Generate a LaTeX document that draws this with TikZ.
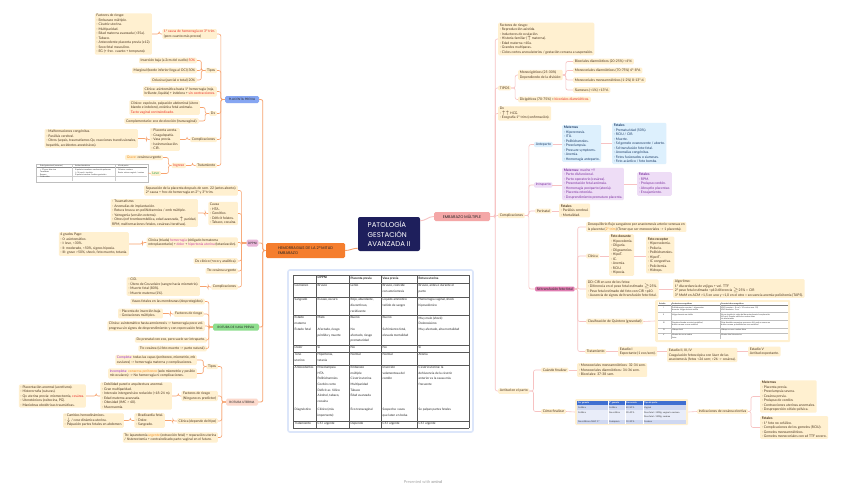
\documentclass[tikz,border=0pt]{standalone}
\usepackage{fontspec}
\setmainfont{Lato}
\newfontfamily\titlefont{Poppins}
\usepackage{amsmath}
\usetikzlibrary{positioning,calc}

\definecolor{leafbg}{HTML}{FFF0D0}
\definecolor{leaftext}{HTML}{4A3520}
\definecolor{orangeline}{HTML}{F7A26E}
\definecolor{pinkline}{HTML}{F7C2C2}
\definecolor{navy}{HTML}{1E1F5C}
\definecolor{hemfill}{HTML}{F57E2E}
\definecolor{emfill}{HTML}{F4A7A7}
\definecolor{ppfill}{HTML}{86A6F2}
\definecolor{dpfill}{HTML}{E8B4D8}
\definecolor{vpfill}{HTML}{8EDE8E}
\definecolor{rufill}{HTML}{FCD9CC}
\definecolor{txtred}{HTML}{E8302A}
\definecolor{txtorange}{HTML}{F08C1E}
\definecolor{txtpurple}{HTML}{9B2FC8}
\definecolor{txtpink}{HTML}{C63FA0}
\definecolor{txtgreen}{HTML}{2DA44E}
\definecolor{antebg}{HTML}{DDF0FD}
\definecolor{antetext}{HTML}{1B3A66}
\definecolor{intrabg}{HTML}{EEDDF6}
\definecolor{intratext}{HTML}{7A2E9E}
\definecolor{tfffill}{HTML}{E07DB2}
\definecolor{tabframe}{HTML}{DCE6FA}
\definecolor{thead}{HTML}{3F6FD1}
\definecolor{trowa}{HTML}{CFD8F1}
\definecolor{trowb}{HTML}{E9EDF9}

\begin{document}
\begin{tikzpicture}[x=1pt, y=-1pt,
    leaf/.style={rectangle, rounded corners=1.2pt, fill=leafbg, text=leaftext, align=left, inner xsep=1.6pt, inner ysep=1.2pt, font=\fontsize{3.4}{4.5}\selectfont},
    leafl/.style={leaf, anchor=east},
    leafr/.style={leaf, anchor=west},
    topic/.style={rectangle, rounded corners=1.5pt, text=black!85, align=left, inner sep=1.5pt, font=\titlefont\fontsize{3.1}{4}\selectfont},
    rootbox/.style={rectangle, rounded corners=2pt, fill=navy, text=white, align=left, minimum width=62, minimum height=34, font=\titlefont\fontsize{7}{9.5}\selectfont},
    antebox/.style={leafr, fill=antebg, text=antetext},
    intrabox/.style={leafr, fill=intrabg, text=intratext},
    lline/.style={draw=orangeline, line width=0.6pt, rounded corners=2pt},
    rline/.style={draw=pinkline, line width=0.6pt, rounded corners=2pt},
    tcell/.style={anchor=north west, inner sep=0, align=left, text=black!85, font=\fontsize{3.1}{5.6}\selectfont},
    tmini/.style={anchor=north west, inner sep=0, align=left, text=black!80, font=\fontsize{1.9}{2.4}\selectfont},
    grid/.style={draw=black!65, line width=0.3pt}
]
\useasboundingbox[fill=white] (0,0) rectangle (848,490);

% central topic and main branches
\node[rootbox] (root) at (389,234) {PATOLOGÍA\\GESTACIÓN\\AVANZADA II};
\node[topic, fill=hemfill, minimum width=79, minimum height=15, font=\titlefont\fontsize{3.8}{5}\selectfont] (hem) at (305.5,250.5) {HEMORRAGIAS DE LA 2ª MITAD\\EMBARAZO};
\node[topic, fill=emfill, minimum width=56, minimum height=9, align=center, font=\titlefont\fontsize{3.9}{5}\selectfont] (em) at (462,216.5) {EMBARAZO MÚLTIPLE};

\draw[lline, line width=0.9pt] ($(root.south west)+(0,-3)$) to[out=180,in=0] (hem.east);
\draw[rline, line width=0.9pt] ($(root.north east)+(0,4)$) to[out=0,in=180] (em.west);

% left: four hemorrhages
\node[topic, fill=ppfill, minimum width=34, minimum height=7] (pp) at (242,99.5) {PLACENTA PREVIA};
\node[topic, fill=dpfill, minimum width=11, minimum height=7] (dp) at (252.5,243) {DPPNI};
\node[topic, fill=vpfill, minimum width=46, minimum height=7] (vp) at (236,327) {ROTURA DE VASA PREVIA};
\node[topic, fill=rufill, minimum width=32, minimum height=7] (ru) at (242,402) {ROTURA UTERINA};

\draw[lline, line width=0.8pt] (hem.west) -- ++(-3,0) |- (pp.east);
\draw[lline, line width=0.8pt] (hem.west) -- ++(-3,0) |- (dp.east);
\draw[lline, line width=0.8pt] (hem.west) -- ++(-3,0) |- (vp.east);
\draw[lline, line width=0.8pt] (hem.west) -- ++(-3,0) |- (ru.east);

% placenta previa
\node[leafl] (pp1) at (217,34) {\textcolor{txtred}{1ª causa de hemorragia en 3º trim.}\\(pero cuanto más precoz)};
\node[leafl] (pp1a) at (152,34) {Factores de riesgo:\\- Embarazo múltiple.\\- Cicatriz uterina.\\- Multiparidad.\\- Edad materna avanzada (>35a).\\- Tabaco.\\- Antecedente placenta previa (x12).\\- Sexo fetal masculino.\\- EG (+ frec. cuanto + temprano).};
\node[leafl] (pp2) at (217,70.5) {Tipos};
\node[leafl] (pp2a) at (197,60.5) {Inserción baja (a 2cm del cuello) \textcolor{txtred}{50\%}};
\node[leafl] (pp2b) at (197,70.5) {Marginal (borde inferior llega al OCI) 30\%};
\node[leafl] (pp2c) at (197,80) {Oclusiva (parcial o total) 20\%};
\node[leafl] (pp3) at (217,91.5) {Clínica: asintomática hasta 1ª hemorragia (roja,\\brillante, líquida) + indolora + \textcolor{txtred}{sin contracciones.}};
\node[leafl] (pp4) at (217,113.5) {Dx};
\node[leafl] (pp4a) at (200,107.5) {Clínico: espéculo, palpación abdominal (útero\\blando e indoloro), estática fetal anómala.\\\textcolor{txtred}{Tacto vaginal contraindicado.}};
\node[leafl] (pp4b) at (199,121) {Complementario: eco de elección (transvaginal).};
\node[leafl] (pp5) at (217,139.5) {Complicaciones};
\node[leafl] (pp5a) at (180,139.5) {- Placenta acreta.\\- Coagulopatía.\\- Vasa previa.\\- Isoinmunización.\\- CIR.};
\node[leafl] (pp5b) at (138,138.5) {- Malformaciones congénitas.\\- Parálisis cerebral.\\- Otros (sepsis, traumatismos Qx, reacciones transfusionales,\\hepatitis, accidentes anestésicos).};
\node[leafl] (pp6) at (217,165.5) {Tratamiento};
\node[leafl] (pp6a) at (186,165.5) {\textcolor{txtred}{Ingreso}};
\node[leafl] (pp6b) at (163,157.5) {\textcolor{txtorange}{Grave:} cesárea urgente};
\node[leafl] (pp6c) at (161,173.5) {\textcolor{txtgreen}{Leve}};
\node[anchor=east, draw=black!25, fill=white, minimum width=112, minimum height=18, inner sep=0] (lvtab) at (148,173) {};

\draw[lline] (pp.west) -- ++(-4,0) |- (pp1.east);
\draw[lline] (pp.west) -- ++(-4,0) |- (pp2.east);
\draw[lline] (pp.west) -- ++(-4,0) |- (pp3.east);
\draw[lline] (pp.west) -- ++(-4,0) |- (pp4.east);
\draw[lline] (pp.west) -- ++(-4,0) |- (pp5.east);
\draw[lline] (pp.west) -- ++(-4,0) |- (pp6.east);
\draw[lline] (pp1.west) -- ++(-3,0) |- (pp1a.east);
\draw[lline] (pp2.west) -- ++(-4,0) |- (pp2a.east);
\draw[lline] (pp2.west) -- ++(-4,0) |- (pp2b.east);
\draw[lline] (pp2.west) -- ++(-4,0) |- (pp2c.east);
\draw[lline] (pp4.west) -- ++(-4,0) |- (pp4a.east);
\draw[lline] (pp4.west) -- ++(-4,0) |- (pp4b.east);
\draw[lline] (pp5.west) -- ++(-3,0) |- (pp5a.east);
\draw[lline] (pp5a.west) -- ++(-3,0) |- (pp5b.east);
\draw[lline] (pp6.west) -- ++(-3,0) |- (pp6a.east);
\draw[lline] (pp6a.west) -- ++(-3,0) |- (pp6b.east);
\draw[lline] (pp6a.west) -- ++(-3,0) |- (pp6c.east);
\draw[lline] (pp6c.west) -- (lvtab.east);

% small table (leve)
\draw[black!45, line width=0.4pt] (37,167.5) -- (147,167.5);
\draw[black!20, line width=0.2pt] (72,165) -- (72,181) (115,165) -- (115,181) (37,176) -- (147,176);
\node[tmini] (lv11) at (40,165) {Edad gestacional (semanas)};
\node[tmini] (lv12) at (75,165) {Actitud obstétrica};
\node[tmini] (lv13) at (118,165) {Vía de parto};
\node[tmini] (lv21) at (40,169) {< 37 sem, feto vivo\\Tocolíticos\\Reposo\\Corticoides};
\node[tmini] (lv22) at (75,169) {Si pulmón inmaduro: maduración pulmonar\\(< 34 sem) + tocolisis\\Si pulmón maduro: finalizar gestación};
\node[tmini] (lv23) at (118,169) {Oclusiva: cesárea\\Resto: valorar vaginal / cesárea};

% DPPNI
\node[leafl] (dp1) at (238,190.5) {Separación de la placenta después de sem. 22 (antes aborto).\\2ª causa + frec de hemorragia en 2º y 3º trim.};
\node[leafl] (dp2) at (238,213.5) {Causa\\- HTA.\\- Genético.\\- Déficit folatos.\\- Tabaco, cocaína.};
\node[leafl] (dp2a) at (198,213) {- Traumatismo.\\- Anomalías de implantación.\\- Rotura brusca en polihidramnios / emb múltiple.\\- Yatrogenia (versión externa).\\- Otros (enf tromboembólica, edad avanzada, $\uparrow$ paridad,\\RPM, malformaciones fetales, cesáreas iterativas).};
\node[leafl] (dp3) at (238,242.5) {Clínica (triada) \textcolor{txtpink}{hemorragia} (obligado hematoma\\retroplacentario) + \textcolor{txtpink}{dolor} + \textcolor{txtpink}{hipertonía uterina} (tetanización).};
\node[leafl] (dp3a) at (129,244) {4 grados Page:\\- 0: asintomático.\\- I: leve, <30\%.\\- II: moderado, <50\%, signos hipoxia.\\- III: grave >50\%, shock, feto muerto, tetania.};
\node[leafl] (dp4) at (238,261) {Dx clínico (+eco y analítica).};
\node[leafl] (dp5) at (238,271) {Ttc cesárea urgente};
\node[leafl] (dp6) at (238,287) {Complicaciones};
\node[leafl] (dp6a) at (200,286.5) {- CID.\\- Útero de Couvelaire (sangre hacia miometrio).\\- Muerte fetal (80\%).\\- Muerte materna (1\%).};

\draw[lline] (dp.west) -- ++(-5,0) |- (dp1.east);
\draw[lline] (dp.west) -- ++(-5,0) |- (dp2.east);
\draw[lline] (dp.west) -- ++(-5,0) |- (dp3.east);
\draw[lline] (dp.west) -- ++(-5,0) |- (dp4.east);
\draw[lline] (dp.west) -- ++(-5,0) |- (dp5.east);
\draw[lline] (dp.west) -- ++(-5,0) |- (dp6.east);
\draw[lline] (dp2.west) -- ++(-3,0) |- (dp2a.east);
\draw[lline] (dp3.west) -- ++(-4,0) |- (dp3a.east);
\draw[lline] (dp6.west) -- ++(-3,0) |- (dp6a.east);

% rotura de vasa previa
\node[leafl] (vp1) at (205,301.5) {Vasos fetales en las membranas (desprotegidos).};
\node[leafl] (vp2) at (204,314) {Factores de riesgo};
\node[leafl] (vp2a) at (163,313.5) {- Placenta de inserción baja.\\- Gestaciones múltiples.};
\node[leafl] (vp3) at (205,326) {Clínica: asintomático hasta amniorrexis -> hemorragia poco vol.\\progresa sin signos de desprendimiento y con repercusión fetal.};
\node[leafl] (vp4) at (207,340) {Dx prenatal con eco, pero suele ser intraparto.};
\node[leafl] (vp5) at (207,348.5) {Ttc cesárea (si feto muerto -> parto natural).};

\draw[lline] (vp.west) -- ++(-4,0) |- (vp1.east);
\draw[lline] (vp.west) -- ++(-4,0) |- (vp2.east);
\draw[lline] (vp.west) -- ++(-4,0) |- (vp3.east);
\draw[lline] (vp.west) -- ++(-4,0) |- (vp4.east);
\draw[lline] (vp.west) -- ++(-4,0) |- (vp5.east);
\draw[lline] (vp2.west) -- ++(-3,0) |- (vp2a.east);

% rotura uterina
\node[leafl] (ru1) at (218,366.5) {Tipos};
\node[leafl] (ru1a) at (197,360) {\textcolor{txtpurple}{Completa:} todas las capas (peritoneo, miometrio, mb\\ovulares) -> hemorragia materna y complicaciones.};
\node[leafl] (ru1b) at (197,373.5) {\textcolor{txtpurple}{Incompleta:} \textcolor{txtorange}{conserva peritoneo} (solo miometrio y posible\\mb ovulares) -> No hemorragia ni complicaciones.};
\node[leafl] (ru2) at (218,396) {Factores de riesgo\\(Ninguno es predictor)};
\node[leafl] (ru2a) at (172,396) {- Debilidad pared o arquitectura anormal.\\- Gran multiparidad.\\- Intervalo intergenésico reducido (<18-24 m).\\- Edad materna avanzada.\\- Obesidad (IMC > 40).\\- Macrosomía.};
\node[leafl] (ru2b) at (86,396) {- Placentación anormal (acretismo).\\- Histerorrafia (suturas).\\- Qx uterina previa: miomectomía, \textcolor{txtred}{cesárea}.\\- Uterotónicos (oxitocina, PG).\\- Maniobras obstétricas traumáticas.};
\node[leafl] (ru3) at (218,421) {Clínica (depende del tipo)};
\node[leafl] (ru3a) at (165,420.5) {- Bradicardia fetal.\\- Dolor.\\- Sangrado.};
\node[leafl] (ru3b) at (124,420.5) {- Cambios hemodinámicos.\\- $\downarrow$ / cese dinámica uterina.\\- Palpación partes fetales en abdomen.};
\node[leafl] (ru4) at (218,437.5) {Ttc laparotomía \textcolor{txtorange}{urgente} (extracción fetal) + reparación uterina\\/ histerectomía + contraindicado parto vaginal en el futuro.};

\draw[lline] (ru.west) -- ++(-4,0) |- (ru1.east);
\draw[lline] (ru.west) -- ++(-4,0) |- (ru2.east);
\draw[lline] (ru.west) -- ++(-4,0) |- (ru3.east);
\draw[lline] (ru.west) -- ++(-4,0) |- (ru4.east);
\draw[lline] (ru1.west) -- ++(-3,0) |- (ru1a.east);
\draw[lline] (ru1.west) -- ++(-3,0) |- (ru1b.east);
\draw[lline] (ru2.west) -- ++(-3,0) |- (ru2a.east);
\draw[lline] (ru2a.west) -- ++(-4,0) |- (ru2b.east);
\draw[lline] (ru3.west) -- ++(-4,0) |- (ru3a.east);
\draw[lline] (ru3a.west) -- ++(-4,0) |- (ru3b.east);

% comparison table
\draw[draw=tabframe, line width=1.6pt, fill=white, rounded corners=2pt] (288,270) rectangle (473,432);
\draw[grid] (293,275) -- (293,428) (316,275) -- (316,428) (349,275) -- (349,428) (381,275) -- (381,428) (417,275) -- (417,428) (469,275) -- (469,428);
\draw[grid] (293,275) -- (469,275) (293,283) -- (469,283) (293,297) -- (469,297) (293,315) -- (469,315) (293,345) -- (469,345);
\draw[grid] (293,352) -- (469,352) (293,365) -- (469,365) (293,421) -- (469,421) (293,428) -- (469,428);
\node[tcell, font=\bfseries\fontsize{3.1}{5.6}\selectfont] (c02) at (317.5,276.5) {DPPNI};
\node[tcell, font=\bfseries\fontsize{3.1}{5.6}\selectfont] (c03) at (350.5,276.5) {Placenta previa};
\node[tcell, font=\bfseries\fontsize{3.1}{5.6}\selectfont] (c04) at (382.5,276.5) {Vasa previa};
\node[tcell, font=\bfseries\fontsize{3.1}{5.6}\selectfont] (c05) at (418.5,276.5) {Rotura uterina};
\node[tcell] (c11) at (294.5,284.5) {Comienzo};
\node[tcell] (c12) at (317.5,284.5) {Brusco};
\node[tcell] (c13) at (350.5,284.5) {Lento};
\node[tcell] (c14) at (382.5,284.5) {Brusco, coincide\\con amniorrexis};
\node[tcell] (c15) at (418.5,284.5) {Brusco, antes o durante el\\parto};
\node[tcell] (c21) at (294.5,298.5) {Sangrado};
\node[tcell] (c22) at (317.5,298.5) {Escaso, oscuro};
\node[tcell] (c23) at (350.5,298.5) {Rojo, abundante,\\discontinuo,\\recidivante};
\node[tcell] (c24) at (382.5,298.5) {Líquido amniótico\\teñido de sangre};
\node[tcell] (c25) at (418.5,298.5) {Hemorragia vaginal, shock\\hipovolémico};
\node[tcell] (c31) at (294.5,316.5) {Estado\\materno};
\node[tcell] (c32) at (317.5,316.5) {Malo};
\node[tcell] (c33) at (350.5,316.5) {Bueno};
\node[tcell] (c34) at (382.5,316.5) {Bueno};
\node[tcell] (c35) at (418.5,316.5) {Muy malo (shock)\\Dolorosísimo};
\node[tcell] (c41) at (294.5,328) {Estado fetal};
\node[tcell] (c42) at (317.5,328) {Afectado, riesgo\\pérdida y muerte};
\node[tcell] (c43) at (350.5,328) {No\\afectado, riesgo\\prematuridad};
\node[tcell] (c44) at (382.5,328) {Sufrimiento fetal,\\elevada mortalidad};
\node[tcell] (c45) at (418.5,328) {Muy afectado, alta mortalidad};
\node[tcell] (c51) at (294.5,346.3) {Dolor};
\node[tcell] (c52) at (317.5,346.3) {Sí};
\node[tcell] (c53) at (350.5,346.3) {No};
\node[tcell] (c54) at (382.5,346.3) {No};
\node[tcell] (c55) at (418.5,346.3) {Sí};
\node[tcell] (c61) at (294.5,353.3) {Tono\\uterino};
\node[tcell] (c62) at (317.5,353.3) {Hipertonía,\\tetania};
\node[tcell] (c63) at (350.5,353.3) {Normal};
\node[tcell] (c64) at (382.5,353.3) {Normal};
\node[tcell] (c65) at (418.5,353.3) {Atonía};
\node[tcell] (c71) at (294.5,366.3) {Antecedentes};
\node[tcell] (c72) at (317.5,366.3) {Preeclampsia\\HTA\\Polihidramnios\\Cordón corto\\Déficit ac. fólico\\Alcohol, tabaco,\\cocaína};
\node[tcell] (c73) at (350.5,366.3) {Embarazo\\múltiple\\Cicatriz uterina\\Multiparidad\\Tabaco\\Edad avanzada};
\node[tcell] (c74) at (382.5,366.3) {Inserción\\velamentosa del\\cordón};
\node[tcell] (c75) at (418.5,366.3) {Cicatriz uterina: la\\dehiscencia de la cicatriz\\anterior es la causa más\\frecuente};
\node[tcell] (c81) at (294.5,408) {Diagnóstico};
\node[tcell] (c82) at (317.5,408) {Clínico (más\\importante)};
\node[tcell] (c83) at (350.5,408) {Eco transvaginal};
\node[tcell] (c84) at (382.5,408) {Sospecha: vasos\\que laten en bolsa};
\node[tcell] (c85) at (418.5,408) {Se palpan partes fetales};
\node[tcell] (c91) at (294.5,422.3) {Tratamiento};
\node[tcell] (c92) at (317.5,422.3) {CST urgente};
\node[tcell] (c93) at (350.5,422.3) {Depende};
\node[tcell] (c94) at (382.5,422.3) {CST urgente};
\node[tcell] (c95) at (418.5,422.3) {CST urgente};

% right: embarazo multiple
\node[leafr] (em1) at (498,39) {Factores de riesgo:\\- Reproducción asistida.\\- Inductores de ovulación.\\- Historia familiar ($\uparrow$ materna).\\- Edad materna >40a.\\- Grandes multíparas.\\- Ciclos cortos anovulatorios / gestación cercana a suspensión.};
\node[leafr] (em2) at (498,88) {TIPOS};
\node[leafr] (em2a) at (518,75) {Monocigóticos (25-30\%)\\Dependiendo de la división:};
\node[leafr] (em2a1) at (573,61.5) {Bicoriales diamnióticos (20-25\%) <4ºd.};
\node[leafr] (em2a2) at (573,70.5) {Monocoriales diamnióticos (70-75\%) 4º-8ºd.};
\node[leafr] (em2a3) at (573,80) {Monocoriales monoamnióticos (1-2\%) 8-13º d.};
\node[leafr] (em2a4) at (573,90) {Siameses (<1\%) >13ºd.};
\node[leafr] (em2b) at (518,99.5) {Dicigóticos (70-75\%) = \textcolor{txtred}{bicoriales diamnióticos.}};
\node[leafr] (em3) at (498,113.5) {Dx\\- $\uparrow\uparrow$ HCG.\\- Ecografía 1º trim (confirmación).};
\node[leafr] (em4) at (498,215.5) {Complicaciones};
\node[antebox] (em4a) at (534,144.5) {Anteparto};
\node[antebox] (em4a1) at (562,143.5) {\textbf{Maternas}\\- Hiperemesis.\\- ITU.\\- Polihidramnios.\\- Preeclampsia.\\- Pressure symptoms.\\- Anemia.\\- Hemorragia anteparto.};
\node[antebox] (em4a2) at (612,143.5) {\textbf{Fetales}\\- Prematuridad (50\%).\\- RCIU / CIR.\\- Muerte.\\- Sd gemelo evanescente / aborto.\\- Sd transfusión feto-fetal.\\- Anomalías congénitas.\\- Fetos fusionados o siameses.\\- Feto acárdico / feto bomba.};
\node[intrabox] (em4b) at (534,185) {Intraparto};
\node[intrabox] (em4b1) at (562,184) {\textbf{Maternas:} mucho +!!\\- Parto disfuncional.\\- Parto operatorio (cesárea).\\- Presentación fetal anómala.\\- Hemorragia postparto (atonía).\\- Placenta retenida.\\- Desprendimiento prematuro placenta.};
\node[intrabox] (em4b2) at (637,184) {\textbf{Fetales}\\- RPM.\\- Prolapso cordón.\\- Abruptio placentae.\\- Encajamiento.};
\node[leafr] (em4c) at (535,211) {Perinatal};
\node[leafr] (em4c1) at (559,210.5) {\textbf{Fetales}\\- Parálisis cerebral.\\- Mortalidad.};
\node[leafr, fill=tfffill, text=black!85] (em4d) at (535,289) {Sd transfusión feto-fetal};
\node[leafr] (em5) at (498,391) {Actitud en el parto};

\draw[rline] (em.east) -- ++(5,0) |- (em1.west);
\draw[rline] (em.east) -- ++(5,0) |- (em2.west);
\draw[rline] (em.east) -- ++(5,0) |- (em3.west);
\draw[rline] (em.east) -- ++(5,0) |- (em4.west);
\draw[rline] (em.east) -- ++(5,0) |- (em5.west);
\draw[rline] (em2.east) -- ++(4,0) |- (em2a.west);
\draw[rline] (em2.east) -- ++(4,0) |- (em2b.west);
\draw[rline] (em2a.east) -- ++(3,0) |- (em2a1.west);
\draw[rline] (em2a.east) -- ++(3,0) |- (em2a2.west);
\draw[rline] (em2a.east) -- ++(3,0) |- (em2a3.west);
\draw[rline] (em2a.east) -- ++(3,0) |- (em2a4.west);
\draw[rline] (em4.east) -- ++(4,0) |- (em4a.west);
\draw[rline] (em4.east) -- ++(4,0) |- (em4b.west);
\draw[rline] (em4.east) -- ++(4,0) |- (em4c.west);
\draw[rline] (em4.east) -- ++(4,0) |- (em4d.west);
\draw[rline] (em4a.east) -- (em4a1.west |- em4a.east);
\draw[rline] (em4a1.east) -- (em4a2.west);
\draw[rline] (em4b.east) -- (em4b1.west |- em4b.east);
\draw[rline] (em4b1.east) -- (em4b2.west);
\draw[rline] (em4c.east) -- (em4c1.west |- em4c.east);

% sd transfusion feto-fetal
\node[leafr] (tf1) at (586,227) {Desequilibrio flujo sanguíneo por anastomosis arterio-venosas en\\la placenta (\textcolor{txtorange}{2º trim}) (Tener que ser monocoriales -> 1 placenta).};
\node[leafr] (tf2) at (586,256) {Clínica};
\node[leafr] (tf2a) at (609,255) {\textbf{Feto donante}\\- Hipovolemia.\\- Oliguria.\\- Oligoamnios.\\- HipoT.\\- IC.\\- Anemia.\\- RCIU.\\- Hipoxia.};
\node[leafr] (tf2b) at (646,255) {\textbf{Feto receptor}\\- Hipervolemia.\\- Poliuria.\\- Polihidramnios.\\- HiperT.\\- IC congestiva.\\- Policitemia.\\- Hidrops.};
\node[leafr] (tf3) at (586,289) {DD: CIR en uno de los fetos:\\- Diferencia en el peso fetal estimado $\geq$25\%.\\- Peso fetal estimado del feto con CIR <p10.\\- Ausencia de signos del transfusión feto-fetal.};
\node[leafr] (tf3a) at (673,288.5) {Algoritmo:\\1º discordancia de vejigas + vol. TTF\\2º peso fetal estimado <p10 diferencia $\geq$25\% = CIR\\3º MoM en ACM >1,5 en uno y <1,0 en el otro = secuencia anemia-policitemia (TAPS).};
\node[leafr] (tf4) at (586,321.5) {Clasificación de Quintero (gravedad)};
\node[leafr, minimum width=135, minimum height=42, inner sep=0] (tf4a) at (655,321) {};
\node[leafr] (tf5) at (585,351.5) {Tratamiento};
\node[leafr] (tf5a) at (618,351.5) {Estadio I\\Expectante (1 eco/sem).};
\node[leafr] (tf5b) at (667,355) {Estadio II, III, IV\\Coagulación fetoscópica con láser de las\\anastomosis (fetos <26 sem; >26 -> cesárea).};
\node[leafr] (tf5c) at (748,351.5) {Estadio V\\Actitud expectante.};

\draw[rline] (em4d.east) -- ++(3,0) |- (tf1.west);
\draw[rline] (em4d.east) -- ++(3,0) |- (tf2.west);
\draw[rline] (em4d.east) -- ++(3,0) |- (tf3.west);
\draw[rline] (em4d.east) -- ++(3,0) |- (tf4.west);
\draw[rline] (em4d.east) -- ++(3,0) |- (tf5.west);
\draw[rline] (tf2.east) -- (tf2a.west |- tf2.east);
\draw[rline] (tf2a.east |- tf2.east) -- (tf2b.west |- tf2.east);
\draw[rline] (tf3.east) -- (tf3a.west |- tf3.east);
\draw[rline] (tf4.east) -- (tf4a.west);
\draw[rline] (tf5.east) -- (tf5a.west);
\draw[rline] (tf5a.east) -- (tf5b.west |- tf5a.east);
\draw[rline] (tf5b.east |- tf5a.east) -- (tf5c.west);

% quintero table
\fill[white] (658,302) rectangle (788,340);
\draw[black!50, line width=0.35pt] (658,305) -- (788,305);
\draw[black!25, line width=0.2pt] (671,303) -- (671,339) (720,303) -- (720,339) (658,312) -- (788,312) (658,320) -- (788,320) (658,328) -- (788,328) (658,333) -- (788,333);
\node[tmini, font=\bfseries\fontsize{1.9}{2.4}\selectfont] (q01) at (659,302.6) {Estadio};
\node[tmini, font=\bfseries\fontsize{1.9}{2.4}\selectfont] (q02) at (672,302.6) {Parámetros ecográficos};
\node[tmini, font=\bfseries\fontsize{1.9}{2.4}\selectfont] (q03) at (721,302.6) {Características ecográficas};
\node[tmini] (q11) at (663,306.5) {I};
\node[tmini] (q12) at (672,306.5) {Polihidramnios receptor / oligoamnios\\donante. Vejiga donante visible};
\node[tmini] (q13) at (721,306.5) {MVP receptor > 8 cm (> 10 cm tras sem. 20)\\MVP donante < 2 cm};
\node[tmini] (q21) at (663,313.5) {II};
\node[tmini] (q22) at (672,313.5) {Vejiga donante no visible};
\node[tmini] (q23) at (721,313.5) {No se visualiza la vejiga del donante durante la exploración\\(60 min), Doppler normal en ambos fetos\\sin alteraciones};
\node[tmini] (q31) at (663,321.5) {III};
\node[tmini] (q32) at (672,321.5) {Doppler alterado en arteria umbilical,\\ductus venoso o vena umbilical};
\node[tmini] (q33) at (721,321.5) {Flujo diastólico ausente o reverso en AU, onda a reversa en\\ductus venoso, pulsatilidad en vena umbilical};
\node[tmini] (q41) at (663,329.3) {IV};
\node[tmini] (q42) at (672,329.3) {Hidrops fetal};
\node[tmini] (q43) at (721,329.3) {Hidrops en uno o ambos fetos};
\node[tmini] (q51) at (663,334.3) {V};
\node[tmini] (q52) at (672,334.3) {Muerte de uno o ambos\\fetos};
\node[tmini] (q53) at (721,334.3) {Muerte fetal intrauterina};

% actitud en el parto
\node[leafr] (em5a) at (541,370) {Cuándo finalizar};
\node[leafr] (em5a1) at (577,370) {- Monocoriales monoamnióticos: 32-34 sem.\\- Monocoriales diamnióticos: 34-36 sem.\\- Bicoriales: 37-38 sem.};
\node[leafr] (em5b) at (541,411.5) {Cómo finalizar};
\node[leafr, minimum width=113, minimum height=26, inner sep=0] (em5b1) at (575,412) {};
\node[leafr] (em5b2) at (697,411.5) {Indicaciones de cesárea electiva};
\node[leafr] (em5b2a) at (760,396.5) {\textbf{Maternas}\\- Placenta previa.\\- Preeclampsia severa.\\- Cesárea previa.\\- Prolapso de cordón.\\- Contracciones uterinas anormales.\\- Desproporción céfalo-pélvica.};
\node[leafr] (em5b2b) at (760,427.5) {\textbf{Fetales}\\- 1º feto no cefálico.\\- Complicaciones de los gemelos (RCIU).\\- Gemelos monoamnióticos.\\- Gemelos monocoriales con sd TTF severo.};

\draw[rline] (em5.east) -- ++(4,0) |- (em5a.west);
\draw[rline] (em5.east) -- ++(4,0) |- (em5b.west);
\draw[rline] (em5a.east) -- (em5a1.west);
\draw[rline] (em5b.east) -- (em5b1.west);
\draw[rline] (em5b1.east) -- (em5b2.west);
\draw[rline] (em5b2.east) -- ++(3,0) |- (em5b2a.west);
\draw[rline] (em5b2.east) -- ++(3,0) |- (em5b2b.west);

% como finalizar table
\fill[thead] (577,401) rectangle (686,405);
\fill[trowa] (577,405) rectangle (686,410);
\fill[trowb] (577,410) rectangle (686,420);
\fill[trowa] (577,420) rectangle (686,424);
\draw[white, line width=0.3pt] (608,401) -- (608,424) (625,401) -- (625,424) (643,401) -- (643,424);
\node[tmini, text=white, font=\bfseries\fontsize{2.2}{2.8}\selectfont] (f01) at (578,401.8) {1er gemelo};
\node[tmini, text=white, font=\bfseries\fontsize{2.2}{2.8}\selectfont] (f02) at (609,401.8) {2º gemelo};
\node[tmini, text=white, font=\bfseries\fontsize{2.2}{2.8}\selectfont] (f03) at (626,401.8) {Frecuencia};
\node[tmini, text=white, font=\bfseries\fontsize{2.2}{2.8}\selectfont] (f04) at (644,401.8) {Tipo de parto};
\node[tmini, font=\fontsize{2.2}{3.2}\selectfont] (f11) at (578,406.5) {Cefálica};
\node[tmini, font=\fontsize{2.2}{3.2}\selectfont] (f12) at (609,406.5) {Cefálica};
\node[tmini, font=\fontsize{2.2}{3.2}\selectfont] (f13) at (626,406.5) {40-50 \%};
\node[tmini, font=\fontsize{2.2}{3.2}\selectfont] (f14) at (644,406.5) {Vaginal};
\node[tmini, font=\fontsize{2.2}{3.2}\selectfont] (f21) at (578,411.5) {Cefálica};
\node[tmini, font=\fontsize{2.2}{3.2}\selectfont] (f22) at (609,411.5) {No cefálica};
\node[tmini, font=\fontsize{2.2}{3.2}\selectfont] (f23) at (626,411.5) {30-40 \%};
\node[tmini, font=\fontsize{2.2}{4.2}\selectfont] (f24) at (644,411.5) {Peso fetal >1500g: vaginal o cesárea\\Peso fetal <1500g: cesárea};
\node[tmini, font=\fontsize{2.2}{3.2}\selectfont] (f31) at (578,421) {No cefálica o MAC 1.º};
\node[tmini, font=\fontsize{2.2}{3.2}\selectfont] (f32) at (609,421) {Cualquiera};
\node[tmini, font=\fontsize{2.2}{3.2}\selectfont] (f33) at (626,421) {10-20 \%};
\node[tmini, font=\fontsize{2.2}{3.2}\selectfont] (f34) at (644,421) {Cesárea};

\node[text=black!35, font=\fontsize{4}{5}\selectfont] (credit) at (423,482) {Presented with \textbf{xmind}};
\end{tikzpicture}
\end{document}
